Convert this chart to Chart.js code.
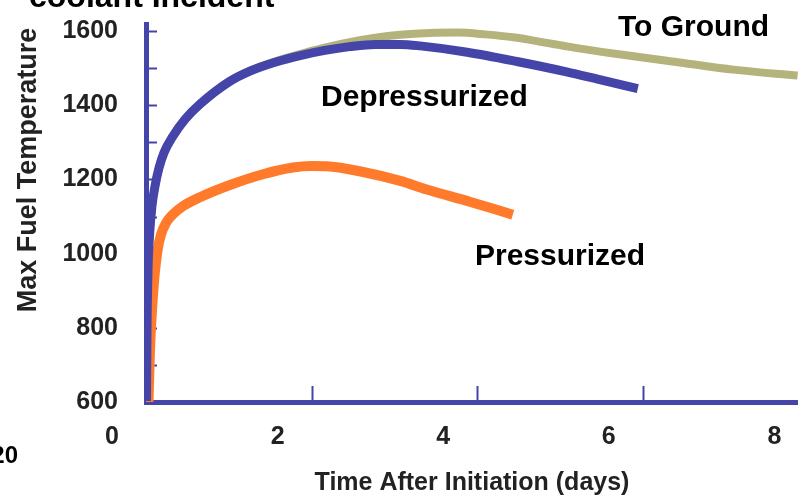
<!DOCTYPE html>
<html>
<head>
<meta charset="utf-8">
<script src="https://cdn.jsdelivr.net/npm/chart.js@4.4.0/dist/chart.umd.min.js"></script>
<style>
  html, body { margin: 0; padding: 0; background: #fff; }
  #wrap { position: relative; width: 798px; height: 499px; overflow: hidden; }
</style>
</head>
<body>
<div id="wrap"><canvas id="tempChart" width="798" height="499"></canvas></div>
<script>
// days after initiation / max fuel temperature
var depDays  = [0.006, 0.012, 0.024, 0.042, 0.072, 0.109, 0.157, 0.217, 0.326, 0.471, 0.652, 1.002, 1.256, 1.558, 1.86, 2.16, 2.46, 2.77, 3.07, 3.31, 3.88, 4.48, 5.08, 5.48, 5.94];
var depTemps = [603, 791, 953, 1047, 1128, 1182, 1231, 1272, 1317, 1362, 1403, 1463, 1492, 1516, 1534, 1548, 1558, 1564, 1564, 1560, 1543, 1518, 1490, 1469, 1445];

var gndDays  = [0.006, 0.012, 0.024, 0.042, 0.072, 0.109, 0.157, 0.217, 0.326, 0.471, 0.652, 1.002, 1.256, 1.558, 1.86, 2.16, 2.46, 2.77, 3.07, 3.43, 3.76, 4.1, 4.48, 4.67, 5.1, 5.69, 6.49, 7.09, 7.87];
var gndTemps = [603, 791, 953, 1047, 1128, 1182, 1231, 1272, 1317, 1362, 1403, 1463, 1493, 1518, 1538, 1555, 1570, 1582, 1590, 1595, 1596, 1591, 1582, 1575, 1558, 1538, 1514, 1496, 1480];

var presDays  = [0.030, 0.048, 0.072, 0.103, 0.139, 0.181, 0.242, 0.326, 0.447, 0.652, 1.014, 1.413, 1.775, 2.0, 2.22, 2.58, 3.07, 3.39, 3.91, 4.43];
var presTemps = [600, 738, 846, 940, 1008, 1051, 1083, 1106, 1128, 1152, 1185, 1214, 1232, 1236, 1235, 1222, 1196, 1173, 1140, 1105];

var xTicks = [0, 2, 4, 6, 8];
var yTicks = [600, 800, 1000, 1200, 1400, 1600];

var axisBlue = '#4545a9';

function pts(xs, ys) {
    var out = [];
    for (var i = 0; i < xs.length; i++) out.push({ x: xs[i], y: ys[i] });
    return out;
}

// notes, titles and the inward tick marks
var extras = {
    id: 'extras',
    beforeDatasetsDraw: function (chart) {
        var ctx = chart.ctx, xs = chart.scales.x, ys = chart.scales.y;
        ctx.save();
        ctx.strokeStyle = axisBlue;
        ctx.lineWidth = 2;
        ys.ticks.forEach(function (t) {
            var py = Math.round(ys.getPixelForValue(t.value)) + 0.5;
            ctx.beginPath();
            ctx.moveTo(xs.left, py);
            ctx.lineTo(xs.left + 11, py);
            ctx.stroke();
        });
        xTicks.forEach(function (v) {
            if (v === 0) return;
            var px = Math.round(xs.getPixelForValue(v)) + 0.5;
            ctx.beginPath();
            ctx.moveTo(px, ys.bottom);
            ctx.lineTo(px, ys.bottom - 16);
            ctx.stroke();
        });
        ctx.restore();
    },
    afterDraw: function (chart) {
        var ctx = chart.ctx;
        ctx.save();
        ctx.fillStyle = '#000';
        ctx.textBaseline = 'alphabetic';
        ctx.textAlign = 'left';
        ctx.font = 'bold 32px "Liberation Sans", Arial, sans-serif';
        ctx.fillText('coolant Incident', 29, 7);
        ctx.font = 'bold 30px "Liberation Sans", Arial, sans-serif';
        ctx.fillText('To Ground', 618, 36);
        ctx.fillText('Depressurized', 321, 106);
        ctx.fillText('Pressurized', 475, 265);
        ctx.font = 'bold 24px "Liberation Sans", Arial, sans-serif';
        ctx.textAlign = 'right';
        ctx.fillText('20', 18, 463);
        ctx.translate(29, 170);
        ctx.rotate(-Math.PI / 2);
        ctx.textAlign = 'center';
        ctx.textBaseline = 'middle';
        ctx.font = 'bold 27px "Liberation Sans", Arial, sans-serif';
        ctx.fillStyle = '#222';
        ctx.fillText('Max Fuel Temperature', 0, 0);
        ctx.restore();
    }
};

var tickFont = { family: '"Liberation Sans", Arial, sans-serif', size: 25, weight: 'bold' };

new Chart(document.getElementById('tempChart'), {
    type: 'line',
    data: {
        datasets: [
            { label: 'Depressurized', data: pts(depDays, depTemps), borderColor: axisBlue, borderWidth: 9 },
            { label: 'To Ground', data: pts(gndDays, gndTemps), borderColor: '#b3b37b', borderWidth: 8 },
            { label: 'Pressurized', data: pts(presDays, presTemps), borderColor: '#ff7b2b', borderWidth: 10 }
        ]
    },
    options: {
        responsive: false,
        animation: false,
        devicePixelRatio: 1,
        layout: { padding: { top: 24, right: 0, left: 0, bottom: 0 } },
        elements: {
            point: { radius: 0 },
            line: { cubicInterpolationMode: 'monotone', borderCapStyle: 'butt', borderJoinStyle: 'round', fill: false }
        },
        plugins: { legend: { display: false }, tooltip: { enabled: false } },
        scales: {
            x: {
                type: 'linear',
                min: 0,
                max: 7.875,
                afterFit: function (s) {
                    s.height = 97;
                    s.paddingLeft = 0;
                    s.paddingRight = 0;
                },
                afterBuildTicks: function (s) { s.ticks = xTicks.map(function (v) { return { value: v }; }); },
                grid: { display: false, drawTicks: false },
                border: { display: true, color: axisBlue, width: 5 },
                ticks: { color: '#222', font: tickFont, padding: 20, labelOffset: -34, autoSkip: false, maxRotation: 0 },
                title: {
                    display: true,
                    text: 'Time After Initiation (days)',
                    color: '#222',
                    font: tickFont,
                    padding: { top: 0, bottom: 1 }
                }
            },
            y: {
                min: 600,
                max: 1619,
                afterFit: function (s) {
                    s.width = 146;
                    s.paddingTop = 0;
                    s.paddingBottom = 0;
                },
                afterBuildTicks: function (s) {
                    var t = [];
                    for (var v = 600; v <= 1600; v += 100) t.push({ value: v });
                    s.ticks = t;
                },
                grid: { display: false, drawTicks: false },
                border: { display: true, color: axisBlue, width: 5 },
                ticks: {
                    color: '#222',
                    font: tickFont,
                    padding: 28,
                    autoSkip: false,
                    callback: function (v) { return yTicks.indexOf(v) >= 0 ? String(v) : ''; }
                }
            }
        }
    },
    plugins: [extras]
});
</script>
</body>
</html>
